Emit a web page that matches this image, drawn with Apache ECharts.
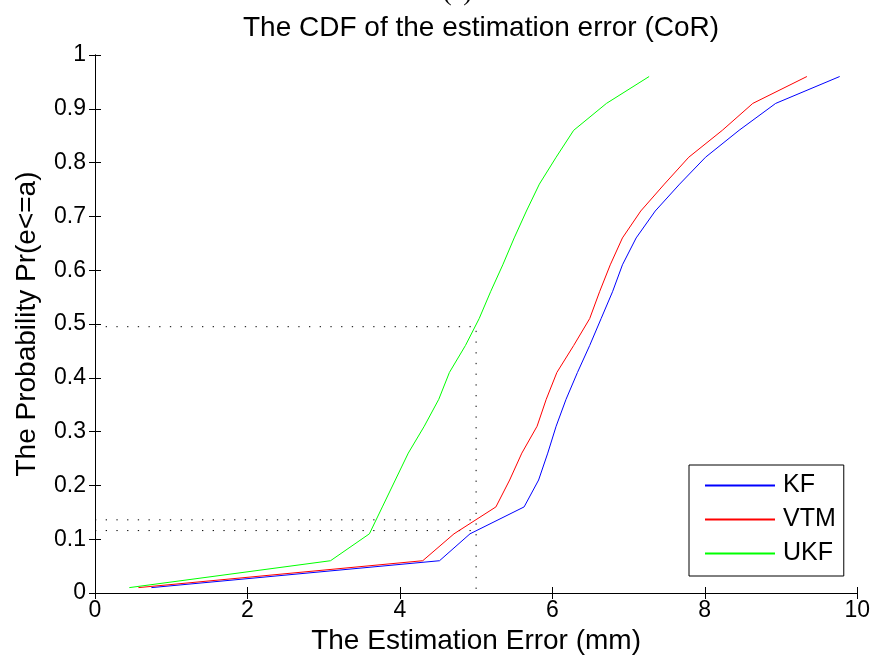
<!DOCTYPE html>
<html>
<head>
<meta charset="utf-8">
<script src="https://cdn.jsdelivr.net/npm/echarts@6/dist/echarts.min.js"></script>
<style>html,body{margin:0;padding:0;background:#fff}#c{width:873px;height:664px}</style>
</head>
<body>
<div id="c"></div>
<script>
// Probability levels (CDF values)
const probs = [0.01,0.06,0.11,0.16,0.21,0.26,0.31,0.36,0.41,0.46,0.51,0.56,0.61,0.66,0.71,0.76,0.81,0.86,0.91,0.96];
// Estimation errors (mm) at each level
const kfErr  = [0.74,4.52,4.92,5.63,5.82,5.94,6.05,6.18,6.33,6.49,6.64,6.79,6.92,7.10,7.35,7.67,8.01,8.45,8.93,9.77];
const vtmErr = [0.57,4.30,4.71,5.26,5.44,5.60,5.80,5.92,6.06,6.28,6.49,6.62,6.76,6.92,7.16,7.47,7.79,8.23,8.63,9.34];
const ukfErr = [0.45,3.09,3.60,3.77,3.94,4.11,4.32,4.51,4.65,4.86,5.04,5.19,5.35,5.50,5.66,5.83,6.05,6.28,6.71,7.27];
const seriesNames = ['KF','VTM','UKF'];
// Reference dotted guide lines
const guideX = 5;
const guideMedian = 0.495;
const guideLow = [0.136, 0.116];

const zip = (xs, ys) => xs.map((x,i)=>[x, ys[i]]);
const font = 'Liberation Sans, Arial, sans-serif';
const colors = ['#0000ff','#ff0000','#00ff00'];
const errs = [kfErr, vtmErr, ukfErr];

const dotted = {color:'#000', width:1, type:[1.3,9.4]};
const guideSeries = [
  {type:'line', data:[[0,guideMedian],[guideX,guideMedian],[guideX,0]]},
  {type:'line', data:[[0,guideLow[0]],[guideX,guideLow[0]]]},
  {type:'line', data:[[0,guideLow[1]],[guideX,guideLow[1]]]}
].map(s => Object.assign(s, {symbol:'none', lineStyle:dotted, silent:true, z:1}));

const mainSeries = seriesNames.map((n,i)=>({
  name:n, type:'line', symbol:'none', data: zip(errs[i], probs),
  lineStyle:{color:colors[i], width:1}, itemStyle:{color:colors[i]}, z:3
}));

const axisCommon = {
  axisLine:{show:true, lineStyle:{color:'#000', width:1}},
  axisTick:{show:true, inside:true, length:6, lineStyle:{color:'#000'}},
  splitLine:{show:false}
};

const option = {
  animation:false,
  backgroundColor:'#fff',
  title:{text:'The CDF of the estimation error (CoR)', left:238, top:9,
    textStyle:{fontFamily:font, fontSize:28, fontWeight:'normal', color:'#000'}},
  graphic:[{type:'text', left:443, top:-20, style:{text:'(c)', font:'26px Liberation Serif, serif', fill:'#000'}}],
  grid:{left:95, right:15, top:55, bottom:71},
  legend:{
    data:seriesNames, orient:'vertical', left:689, top:465,
    backgroundColor:'#fff', borderColor:'#000', borderWidth:1,
    padding:[8,8,10,15], itemGap:9, itemWidth:70, itemHeight:14,
    itemStyle:{opacity:0},
    textStyle:{fontFamily:font, fontSize:25, color:'#000', padding:[0,0,0,3]}
  },
  xAxis:[
    Object.assign({type:'value', min:0, max:10, interval:2, name:'The Estimation Error (mm)',
      nameLocation:'middle', nameGap:33,
      nameTextStyle:{fontFamily:font, fontSize:28, color:'#000'},
      axisLabel:{fontFamily:font, fontSize:23, color:'#000', margin:6}}, axisCommon),
    Object.assign({type:'value', min:0, max:10, interval:2, position:'top',
      axisLabel:{show:false}}, axisCommon)
  ],
  yAxis:[
    Object.assign({type:'value', min:0, max:1, interval:0.1, name:'The Probability Pr(e<=a)',
      nameLocation:'middle', nameGap:54,
      nameTextStyle:{fontFamily:font, fontSize:28, color:'#000'},
      axisLabel:{fontFamily:font, fontSize:23, color:'#000', margin:9,
        formatter:v => String(Math.round(v*10)/10)}}, axisCommon),
    Object.assign({type:'value', min:0, max:1, interval:0.1, position:'right',
      axisLabel:{show:false}}, axisCommon)
  ],
  series: guideSeries.concat(mainSeries)
};

const chart = echarts.init(document.getElementById('c'), null, {renderer:'canvas'});
chart.setOption(option);
</script>
</body>
</html>
